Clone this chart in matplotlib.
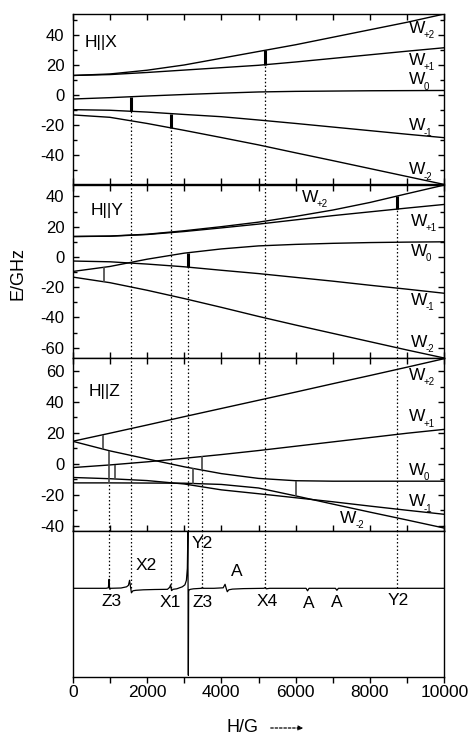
import matplotlib.pyplot as plt
import numpy as np
from matplotlib.ticker import MultipleLocator

plt.rcParams['font.family'] = ['Liberation Sans', 'DejaVu Sans']
plt.rcParams['axes.unicode_minus'] = False

# field grid (G)
H = [0, 1000, 2000, 3000, 4000, 5000, 6000, 7000, 8000, 9000, 10000]

# energy levels (GHz), order: W+2, W+1, W0, W-1, W-2
# H||X
x_wp2 = [13.0, 14.0, 16.5, 20.0, 24.5, 29.0, 33.5, 38.5, 43.5, 48.5, 54.0]
x_wp1 = [13.0, 13.6, 15.0, 16.6, 18.2, 19.8, 22.0, 24.4, 26.8, 29.2, 31.5]
x_w0 = [-2.7, -1.8, -0.7, 0.3, 1.2, 2.0, 2.4, 2.6, 2.8, 2.9, 3.0]
x_wm1 = [-9.8, -10.2, -11.4, -13.0, -14.5, -16.7, -19.0, -21.4, -23.8, -26.2, -28.5]
x_wm2 = [-13.3, -14.9, -19.0, -23.6, -28.4, -33.3, -38.6, -43.8, -49.1, -54.4, -59.7]
# H||Y
y_wp2 = [13.5, 13.8, 15.0, 17.3, 20.0, 23.0, 26.8, 31.0, 36.0, 41.8, 47.5]
y_wp1 = [13.5, 13.7, 14.8, 16.8, 19.2, 21.7, 24.5, 27.3, 29.8, 32.3, 34.7]
y_w0 = [-9.6, -6.3, -1.5, 2.5, 5.3, 7.3, 8.3, 9.0, 9.5, 9.8, 10.0]
y_wm1 = [-2.7, -3.2, -4.7, -6.5, -8.8, -11.0, -13.5, -16.0, -18.7, -21.3, -24.0]
y_wm2 = [-13.3, -17.0, -22.0, -27.5, -33.3, -39.3, -45.0, -50.5, -56.0, -61.5, -66.8]
# H||Z
z_wp2 = [14.6, 19.8, 25.1, 30.5, 35.8, 41.1, 46.4, 51.8, 57.1, 62.5, 68.0]
z_wp1 = [-2.4, -0.7, 1.3, 3.6, 6.0, 8.6, 11.4, 14.2, 17.0, 19.8, 22.3]
z_w0 = [14.6, 8.4, 3.2, -1.9, -6.3, -9.4, -10.9, -11.2, -11.2, -11.2, -11.2]
z_wm1 = [-8.8, -9.6, -10.8, -13.0, -16.8, -19.3, -21.9, -24.5, -27.3, -30.0, -32.6]
z_wm2 = [-12.3, -12.3, -12.4, -12.5, -13.3, -15.6, -20.7, -26.0, -31.2, -36.3, -41.5]

# transitions: field (G), upper level index, lower level index, thick?
x_trans = [(1570, 2, 3, True), (2640, 3, 4, True), (5180, 0, 1, True)]
y_trans = [(843, 2, 4, False), (3114, 2, 3, True), (8716, 0, 1, True)]
z_trans = [(825, 0, 2, False), (986, 2, 4, False), (1140, 1, 3, False),
           (3249, 2, 4, False), (3491, 1, 2, False), (6005, 2, 4, False)]

# dotted guide lines: field, panel where it starts, level it starts from
dot_H = [986, 1570, 2640, 3114, 3491, 5180, 8716]
dot_start = [(2, 4), (0, 3), (0, 4), (1, 3), (2, 2), (0, 1), (1, 1)]

# EPR spectrum (a.u.)
sp_H = [0, 900, 960, 980, 990, 1000, 1020, 1300, 1450, 1500, 1530, 1550, 1580,
        1620, 1700, 1900, 2200, 2550, 2610, 2635, 2660, 2700, 2800, 2950, 3020,
        3060, 3085, 3100, 3112, 3120, 3135, 3170, 3250, 3470, 3490, 3510, 3800,
        4050, 4100, 4130, 4160, 4200, 4300, 4600, 5150, 5180, 5210, 5300, 6280,
        6320, 6360, 7070, 7110, 7150, 10000]
sp_S = [0, 0, 0.5, 9, 1, -1, 0, 0.3, 1.5, 3, 8, 3, -4.5,
        -2.5, -2, -1.5, -1.2, -1, 1, 3.5, -2.3, -1, -0.5, 1.5, 3.5,
        8, 20, 57, -87, -3, -1.5, -1, -0.5, 0, 1, 0, 0,
        0.5, 4, 0, -3.4, -1.5, -0.8, -0.3, 0, 0.8, -0.5, 0, 0,
        -2.5, 0, 0, -2, 0, 0]
sp_labels = ['Z3', 'X2', 'X1', 'Y2', 'Z3', 'A', 'X4', 'A', 'A', 'Y2']
sp_lab_H = [1050, 1966, 2620, 3474, 3500, 4417, 5224, 6345, 7110, 8753]
sp_lab_S = [-13.4, 23.3, -14.4, 45, -14.4, 16.6, -13.4, -15, -14.4, -12.4]

panels = [
    dict(levels=[x_wp2, x_wp1, x_w0, x_wm1, x_wm2], trans=x_trans, ylim=(-59.7, 54),
         title='H||X', title_pos=(330, 35),
         wpos=[(9050, 44.5), (9050, 23.3), (9050, 10), (9050, -20.7), (9050, -50)]),
    dict(levels=[y_wp2, y_wp1, y_w0, y_wm1, y_wm2], trans=y_trans, ylim=(-66.8, 47.5),
         title='H||Y', title_pos=(485, 30.4),
         wpos=[(6167, 39.3), (9100, 23.7), (9100, 3.7), (9100, -28.5), (9100, -56.3)]),
    dict(levels=[z_wp2, z_wp1, z_w0, z_wm1, z_wm2], trans=z_trans, ylim=(-43.4, 68.4),
         title='H||Z', title_pos=(420, 46.5),
         wpos=[(9050, 57.2), (9050, 30.3), (9050, -4.1), (9050, -24.5), (7200, -35.3)]),
]
wnames = ['+2', '+1', '0', '-1', '-2']

fig = plt.figure(figsize=(4.7, 7.37), dpi=100)
left, width = 0.1547, 0.7906
ax1 = fig.add_axes([left, 0.7497, width, 0.2313])
ax2 = fig.add_axes([left, 0.5142, width, 0.2347])
ax3 = fig.add_axes([left, 0.2795, width, 0.2347])
ax4 = fig.add_axes([left, 0.0814, width, 0.1981])
axes = [ax1, ax2, ax3]

dot_style = dict(color='k', linestyle=(0, (1.2, 1.8)), linewidth=0.9)

for i, (ax, p) in enumerate(zip(axes, panels)):
    for lev in p['levels']:
        ax.plot(H, lev, color='k', linewidth=1.0)
    for h, up, lo, thick in p['trans']:
        e_up = np.interp(h, H, p['levels'][up])
        e_lo = np.interp(h, H, p['levels'][lo])
        if thick:
            ax.plot([h, h], [e_lo, e_up], color='k', linewidth=2.2, solid_capstyle='butt')
        else:
            ax.plot([h, h], [e_lo, e_up], color='#444444', linewidth=1.2, solid_capstyle='butt')
    # dotted guide lines
    for h, (pstart, lev) in zip(dot_H, dot_start):
        if pstart == i:
            top = np.interp(h, H, p['levels'][lev])
            ax.plot([h, h], [p['ylim'][0], top], **dot_style)
        elif pstart < i:
            ax.plot([h, h], list(p['ylim']), **dot_style)
    ax.text(p['title_pos'][0], p['title_pos'][1], p['title'], fontsize=12.5,
            ha='left', va='center')
    for (wx, wy), nm in zip(p['wpos'], wnames):
        ax.text(wx, wy, 'W', fontsize=12.5, ha='left', va='center')
        ax.annotate(nm, xy=(wx, wy), xytext=(10.8, -5), textcoords='offset points',
                    fontsize=7, ha='left', va='center')
    ax.set_xlim(0, 10000)
    ax.set_ylim(*p['ylim'])
    ax.xaxis.set_major_locator(MultipleLocator(2000))
    ax.xaxis.set_minor_locator(MultipleLocator(1000))
    ax.yaxis.set_major_locator(MultipleLocator(20))
    ax.yaxis.set_minor_locator(MultipleLocator(10))
    ax.tick_params(axis='x', which='both', direction='in', top=True, bottom=True,
                   labelbottom=False, length=4, width=1.0)
    ax.tick_params(axis='y', which='major', direction='in', left=True, right=True,
                   length=4, width=1.0, labelsize=12, pad=6)
    ax.tick_params(axis='y', which='minor', direction='in', left=True, right=True,
                   length=3, width=1.0)

# spectrum panel
ax4.plot(sp_H, sp_S, color='k', linewidth=0.9)
for h, (pstart, lev) in zip(dot_H, dot_start):
    if h != 3114:
        ax4.plot([h, h], [0, 57.3], **dot_style)
for lab, lx, ly in zip(sp_labels, sp_lab_H, sp_lab_S):
    ax4.text(lx, ly, lab, fontsize=12.5, ha='center', va='center')
ax4.set_xlim(0, 10000)
ax4.set_ylim(-88.7, 57.3)
ax4.set_yticks([])
ax4.xaxis.set_major_locator(MultipleLocator(2000))
ax4.xaxis.set_minor_locator(MultipleLocator(1000))
ax4.tick_params(axis='x', which='both', direction='out', top=False, length=4.5,
                width=1.0, labelsize=12.5, pad=1)

for ax in [ax1, ax2, ax3, ax4]:
    for s in ax.spines.values():
        s.set_linewidth(1.0)

fig.text(18 / 470, 1 - 273 / 737, 'E/GHz', rotation=90, fontsize=13,
         ha='center', va='center')
fig.text(227 / 470, 1 - 728 / 737, 'H/G', fontsize=13, ha='left', va='center')
ax4.annotate('', xy=(306 / 470, 1 - 728 / 737), xytext=(268 / 470, 1 - 728 / 737),
             xycoords='figure fraction', textcoords='figure fraction',
             arrowprops=dict(arrowstyle='-|>', linestyle=(0, (2, 1.5)), lw=0.9,
                             color='k', mutation_scale=7))

fig.savefig('out.png', dpi=100)
